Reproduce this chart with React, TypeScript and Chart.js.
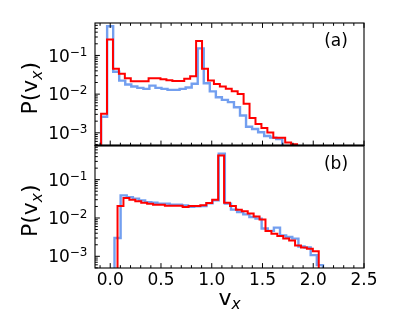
import React, { useEffect, useRef } from "react";
import { Chart, registerables } from "chart.js";

Chart.register(...registerables);

// ---- axis settings ----
const X_MIN = -0.15;
const X_MAX = 2.5;
const X_TICKS = [0, 0.5, 1.0, 1.5, 2.0, 2.5];
const TOP_Y_MIN = 4.7e-4;
const TOP_Y_MAX = 0.69;
const BOT_Y_MIN = 4.95e-4;
const BOT_Y_MAX = 0.78;
const Y_TICKS = [1e-3, 1e-2, 1e-1];
const Y_TICK_EXP = ["\u22123", "\u22122", "\u22121"];
const PANEL_LABELS = ["(a)", "(b)"];

// ---- histogram data: (a) ----
const topRedStart = -0.09;
const topRedWidth = 0.0585;
const topRed = [
  0.0031, 0.26, 0.045, 0.0335, 0.0257, 0.0216, 0.0216, 0.0216, 0.0257, 0.0257,
  0.0242, 0.0229, 0.022, 0.022, 0.0248, 0.0288, 0.236, 0.045, 0.0224, 0.0184,
  0.0157, 0.0137, 0.0118, 0.0101, 0.0056, 0.0024, 0.0017, 0.00133, 0.00102,
  0.00075, 0.00075, 0.00056, 0.00051,
];
const topBlueStart = -0.09;
const topBlueWidth = 0.0595;
const topBlue = [
  0.0026, 0.57, 0.038, 0.0224, 0.0177, 0.0157, 0.0145, 0.0137, 0.0166, 0.0145,
  0.0137, 0.0129, 0.0129, 0.0137, 0.0148, 0.0185, 0.152, 0.0191, 0.0118, 0.0083,
  0.0071, 0.0062, 0.0046, 0.0028, 0.00144, 0.00126, 0.00103, 0.00083, 0.00075,
  0.00069,
];

// ---- histogram data: (b) ----
const botRedStart = 0.072;
const botRedWidth = 0.0583;
const botRed = [
  0.0205, 0.033, 0.03, 0.0272, 0.0251, 0.0237, 0.0223, 0.0223, 0.021, 0.021,
  0.021, 0.0193, 0.0205, 0.0205, 0.0214, 0.0246, 0.03, 0.43, 0.0251, 0.0205,
  0.0165, 0.0149, 0.013, 0.011, 0.0091, 0.0046, 0.0039, 0.0034, 0.0029, 0.0026,
  0.0019, 0.0017, 0.00158, 0.00135,
];
const botBlueStart = 0.042;
const botBlueWidth = 0.0604;
const botBlue = [
  0.003, 0.039, 0.035, 0.032, 0.0288, 0.026, 0.025, 0.0237, 0.0237, 0.0223,
  0.0223, 0.0214, 0.0195, 0.0201, 0.0205, 0.024, 0.029, 0.48, 0.0237, 0.0165,
  0.0143, 0.0124, 0.0106, 0.0096, 0.0053, 0.0046, 0.0056, 0.0035, 0.0032,
  0.0029, 0.0018, 0.0017, 0.00107, 0.00059,
];

const FLOOR = 1e-7;
const RED = "#ff0000";
const BLUE = "rgba(100,149,237,0.9)";
const FONT = "DejaVu Sans";
const FS = 17; // tick labels
const TS = 22; // axis titles

type Part = { text: string; size: number; italic?: boolean; dy?: number };

function drawParts(ctx: CanvasRenderingContext2D, parts: Part[], cx: number, baseY: number) {
  let total = 0;
  const widths = parts.map((p) => {
    ctx.font = `${p.italic ? "italic " : ""}${p.size}px "${FONT}"`;
    const w = ctx.measureText(p.text).width;
    total += w;
    return w;
  });
  let x = cx - total / 2;
  ctx.textAlign = "left";
  ctx.textBaseline = "alphabetic";
  parts.forEach((p, i) => {
    ctx.font = `${p.italic ? "italic " : ""}${p.size}px "${FONT}"`;
    ctx.fillText(p.text, x, baseY + (p.dy || 0));
    x += widths[i];
  });
}

function stepOutline(start: number, width: number, vals: number[]) {
  const pts: { x: number; y: number }[] = [{ x: start, y: FLOOR }];
  vals.forEach((v, i) => pts.push({ x: start + i * width, y: v }));
  const end = start + vals.length * width;
  pts.push({ x: end, y: vals[vals.length - 1] });
  pts.push({ x: end, y: FLOOR });
  return pts;
}

const panelPlugin = {
  id: "panelPlugin",
  beforeDatasetDraw(chart: any, args: any) {
    const meta = chart.getDatasetMeta(args.index);
    const ys = meta.yScale;
    const { ctx, chartArea } = chart;
    ctx.save();
    ctx.beginPath();
    ctx.rect(chartArea.left, ys.top, chartArea.right - chartArea.left, ys.bottom - ys.top);
    ctx.clip();
  },
  afterDatasetDraw(chart: any) {
    chart.ctx.restore();
  },
  afterDraw(chart: any) {
    const { ctx, chartArea, scales } = chart;
    const xs = scales.x;
    const panels = [
      { s: scales.yTop, label: PANEL_LABELS[0], topTicks: true },
      { s: scales.yBot, label: PANEL_LABELS[1], topTicks: false },
    ];
    ctx.save();
    ctx.strokeStyle = "#000";
    ctx.fillStyle = "#000";
    const left = chartArea.left;
    const right = chartArea.right;
    panels.forEach((p) => {
      const top = p.s.top;
      const bottom = p.s.bottom;
      ctx.lineWidth = 1.1;
      ctx.strokeRect(left, top, right - left, bottom - top);
      ctx.lineWidth = 1;
      ctx.beginPath();
      for (let k = -2; k <= 25; k++) {
        const v = k / 10;
        if (v < X_MIN || v > X_MAX) continue;
        const px = xs.getPixelForValue(v);
        const len = k % 5 === 0 ? 4.9 : 2.8;
        ctx.moveTo(px, bottom);
        ctx.lineTo(px, bottom - len);
        if (p.topTicks) {
          ctx.moveTo(px, top);
          ctx.lineTo(px, top + len);
        }
      }
      for (let e = -5; e <= 0; e++) {
        for (let m = 1; m <= 9; m++) {
          const v = m * Math.pow(10, e);
          if (v < p.s.min || v > p.s.max) continue;
          const py = p.s.getPixelForValue(v);
          const len = m === 1 ? 4.9 : 2.8;
          ctx.moveTo(left, py);
          ctx.lineTo(left + len, py);
        }
      }
      ctx.stroke();

      // y tick labels 10^{-n}
      Y_TICKS.forEach((v, i) => {
        if (v < p.s.min || v > p.s.max) return;
        const py = p.s.getPixelForValue(v);
        const xr = left - 7.5;
        const base = py + 6.2;
        ctx.textBaseline = "alphabetic";
        ctx.font = `12px "${FONT}"`;
        const supW = ctx.measureText(Y_TICK_EXP[i]).width;
        ctx.textAlign = "left";
        ctx.fillText(Y_TICK_EXP[i], xr - supW, base - 6);
        ctx.font = `${FS}px "${FONT}"`;
        ctx.textAlign = "right";
        ctx.fillText("10", xr - supW, base);
      });

      // y axis title P(v_x)
      ctx.save();
      ctx.translate(36.5, (top + bottom) / 2 + 4);
      ctx.rotate(-Math.PI / 2);
      drawParts(
        ctx,
        [
          { text: "P(v", size: TS },
          { text: "x", size: 15.4, italic: true, dy: 5 },
          { text: ")", size: TS },
        ],
        0,
        0
      );
      ctx.restore();

      // panel label
      ctx.font = `${FS}px "${FONT}"`;
      ctx.textAlign = "center";
      ctx.textBaseline = "middle";
      ctx.fillText(p.label, right - 28, top + 19);
    });
    // shared boundary looks heavier
    ctx.lineWidth = 2;
    ctx.beginPath();
    ctx.moveTo(left, scales.yTop.bottom);
    ctx.lineTo(right, scales.yTop.bottom);
    ctx.stroke();

    // x axis title v_x
    drawParts(
      ctx,
      [
        { text: "v", size: TS },
        { text: "x", size: 15.4, italic: true, dy: 4 },
      ],
      (left + right) / 2,
      305
    );
    ctx.restore();
  },
};

function yScale(min: number, max: number, weight: number) {
  return {
    type: "logarithmic" as const,
    position: "left" as const,
    stack: "panels",
    stackWeight: 1,
    weight,
    min,
    max,
    grid: { display: false, drawTicks: false },
    border: { display: false },
    afterFit: (s: any) => {
      s.width = 95;
    },
    afterBuildTicks: (s: any) => {
      s.ticks = Y_TICKS.map((v) => ({ value: v }));
    },
    ticks: {
      display: false,
    },
  };
}

export default function App() {
  const ref = useRef<HTMLCanvasElement | null>(null);
  useEffect(() => {
    if (!ref.current) return;
    const common = { showLine: true, stepped: true, pointRadius: 0, fill: false };
    const chart = new Chart(ref.current, {
      type: "scatter",
      data: {
        datasets: [
          { label: "red (a)", data: stepOutline(topRedStart, topRedWidth, topRed), yAxisID: "yTop", borderColor: RED, borderWidth: 2, ...common },
          { label: "red (b)", data: stepOutline(botRedStart, botRedWidth, botRed), yAxisID: "yBot", borderColor: RED, borderWidth: 2, ...common },
          { label: "blue (a)", data: stepOutline(topBlueStart, topBlueWidth, topBlue), yAxisID: "yTop", borderColor: BLUE, borderWidth: 2.4, ...common },
          { label: "blue (b)", data: stepOutline(botBlueStart, botBlueWidth, botBlue), yAxisID: "yBot", borderColor: BLUE, borderWidth: 2.4, ...common },
        ] as any,
      },
      options: {
        responsive: false,
        animation: false,
        devicePixelRatio: 1,
        layout: { padding: { top: 23, right: 35, left: 0, bottom: 0 } },
        plugins: {
          legend: { display: false },
          tooltip: { enabled: false },
        },
        scales: {
          x: {
            type: "linear",
            position: "bottom",
            min: X_MIN,
            max: X_MAX,
            grid: { display: false, drawTicks: false },
            border: { display: false },
            afterFit: (s: any) => {
              s.height = 64;
            },
            afterBuildTicks: (s: any) => {
              s.ticks = X_TICKS.map((v) => ({ value: v }));
            },
            ticks: {
              color: "#000",
              padding: 2,
              maxRotation: 0,
              font: { family: FONT, size: FS },
              callback: (v: any) => Number(v).toFixed(1),
            },
          },
          yTop: yScale(TOP_Y_MIN, TOP_Y_MAX, 1),
          yBot: yScale(BOT_Y_MIN, BOT_Y_MAX, 0),
        } as any,
      },
      plugins: [panelPlugin],
    });
    return () => chart.destroy();
  }, []);
  return (
    <div style={{ position: "absolute", left: 0, top: 0, width: 399, height: 332, background: "#fff" }}>
      <canvas ref={ref} width={399} height={332} style={{ display: "block" }} />
    </div>
  );
}
